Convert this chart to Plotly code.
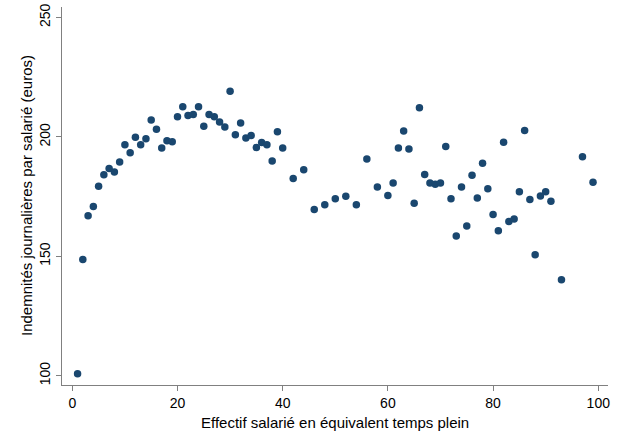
import plotly.graph_objects as go

effectif = [1, 2, 3, 4, 5, 6, 7, 8, 9, 10, 11, 12, 13, 14, 15, 16, 17, 18, 19, 20,
            21, 22, 23, 24, 25, 26, 27, 28, 29, 30, 31, 32, 33, 34, 35, 36, 37, 38, 39, 40,
            42, 44, 46, 48, 50, 52, 54, 56, 58, 60,
            61, 62, 63, 64, 65, 66, 67, 68, 69, 70, 71, 72, 73, 74, 75, 76, 77, 78, 79, 80,
            81, 82, 83, 84, 85, 86, 87, 88, 89, 90, 91, 93, 97, 99]
indemnites = [100.8, 148.7, 167.0, 170.9, 179.3, 184.1, 186.8, 185.3, 189.5, 196.7,
              193.4, 199.9, 196.7, 199.2, 207.1, 203.2, 195.3, 198.4, 198.0, 208.4,
              212.6, 209.0, 209.4, 212.6, 204.5, 209.4, 208.4, 206.2, 204.1, 219.1,
              200.9, 205.8, 199.5, 200.6, 195.6, 197.7, 196.7, 189.9, 202.2, 195.3,
              182.6, 186.2, 169.6, 171.6, 174.1, 175.1, 171.6, 190.7, 179.0, 175.5,
              180.7, 195.3, 202.5, 194.9, 172.2, 212.2, 184.3, 180.7, 180.2, 180.7,
              196.0, 174.1, 158.5, 179.0, 162.7, 183.9, 174.4, 189.0, 178.3, 167.5,
              160.7, 197.8, 164.6, 165.6, 177.0, 202.7, 173.8, 150.6, 175.3, 177.0,
              173.1, 140.2, 191.7, 181.0]

x_ticks = [0, 20, 40, 60, 80, 100]
y_ticks = [100, 150, 200, 250]

x_title = "Effectif salarié en équivalent temps plein"
y_title = "Indemnités journalières par salarié (euros)"

font_family = "Liberation Sans, Arial, sans-serif"

fig = go.Figure(
    go.Scatter(
        x=effectif,
        y=indemnites,
        mode="markers",
        marker=dict(color="#1a476f", size=7.5, line=dict(width=0)),
        showlegend=False,
        hoverinfo="skip",
    )
)

fig.update_layout(
    width=621,
    height=431,
    margin=dict(l=62, r=13, t=7, b=46),
    paper_bgcolor="white",
    plot_bgcolor="white",
    font=dict(family=font_family, size=14, color="black"),
    annotations=[
        dict(text=x_title, xref="paper", yref="paper", x=0.5, y=0,
             xanchor="center", yanchor="middle", yshift=-37, showarrow=False,
             font=dict(size=15)),
        dict(text=y_title, xref="paper", yref="paper", x=0, y=0.5,
             xanchor="center", yanchor="middle", xshift=-36, textangle=-90,
             showarrow=False, font=dict(size=15)),
    ],
)

fig.update_xaxes(
    range=[-1.96, 101.85],
    tickvals=x_ticks,
    ticktext=[str(v) for v in x_ticks],
    showgrid=False,
    zeroline=False,
    showline=True,
    linecolor="#808080",
    linewidth=1,
    ticks="outside",
    ticklen=5,
    tickcolor="#808080",
    tickfont=dict(size=14),
    automargin=False,
)

fig.update_yaxes(
    range=[96.1, 254.4],
    tickvals=y_ticks,
    ticktext=[str(v) for v in y_ticks],
    tickangle=-90,
    showgrid=False,
    zeroline=False,
    showline=True,
    linecolor="#808080",
    linewidth=1,
    ticks="outside",
    ticklen=5,
    tickcolor="#808080",
    tickfont=dict(size=14),
    automargin=False,
)

fig.write_html(
    "out.html",
    config={"displayModeBar": False},
    post_script="document.body.style.margin='0';document.body.style.overflow='hidden';",
)
